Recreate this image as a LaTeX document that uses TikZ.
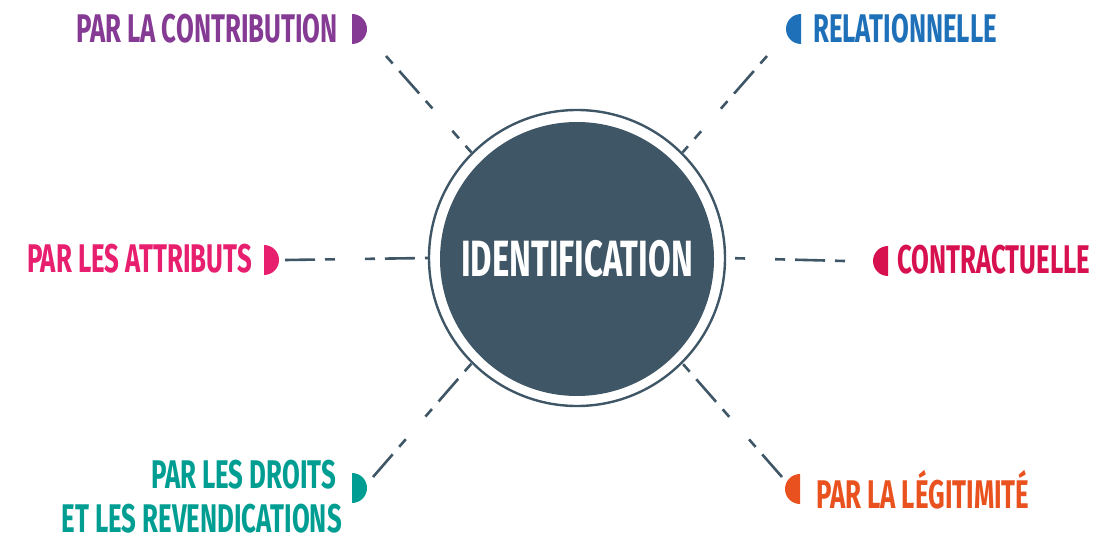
\documentclass[tikz,border=0pt]{standalone}
\usepackage{fontspec}
\newfontfamily\condfont{Fira Sans}[FakeStretch=0.645]
\usetikzlibrary{calc}
\definecolor{slate}{RGB}{63,86,102}
\definecolor{cpurple}{RGB}{133,58,148}
\definecolor{cblue}{RGB}{30,113,184}
\definecolor{cpink}{RGB}{232,30,110}
\definecolor{ccrimson}{RGB}{215,16,80}
\definecolor{cteal}{RGB}{0,158,146}
\definecolor{corange}{RGB}{233,82,30}
\begin{document}
\begin{tikzpicture}[x=1pt,y=-1pt,
  lbl/.style={inner sep=0pt,font=\condfont\bfseries\fontsize{40}{48}\selectfont},
  conn/.style={draw=slate,line width=2.6pt,dash pattern=on 10pt off 30pt on 10pt off 10pt on 30pt off 10pt},
]
\useasboundingbox (0,0) rectangle (1097,540);

% central disc and its ring
\node[circle,draw=slate,line width=2.4pt,minimum size=296pt,inner sep=0pt] (ring) at (577,258) {};
\node[circle,fill=slate,minimum size=274pt,inner sep=0pt,text=white,
      font=\condfont\bfseries\fontsize{51}{60}\selectfont] (core) at (577,259) {IDENTIFICATION};

% outer end points of the spokes
\coordinate (eul) at (386,56);
\coordinate (eur) at (767,56);
\coordinate (el)  at (285,260);
\coordinate (er)  at (845,261);
\coordinate (ell) at (373,477);
\coordinate (elr) at (782,477);

% spokes, drawn from the outer end towards the ring
\draw[conn,dash phase=40pt] (eul) -- (ring.135);
\draw[conn,dash phase=40pt] (eur) -- (ring.45);
\draw[conn,dash phase=60pt] (el)  -- (ring.180);
\draw[conn,dash phase=40pt] (er)  -- (ring.0);
\draw[conn,dash phase=60pt] (ell) -- (ring.225);
\draw[conn,dash phase=60pt] (elr) -- (ring.315);

% half-disc markers (flat side facing the label)
\coordinate (mul) at (352,29);
\coordinate (mur) at (801,29);
\coordinate (ml)  at (264,260);
\coordinate (mr)  at (888,261);
\coordinate (mll) at (352,488);
\coordinate (mlr) at (800,489);
\fill[cpurple]  (mul) ++(0,-15) arc[start angle=-90,end angle=90,radius=15] -- cycle;
\fill[cblue]    (mur) ++(0,-15) arc[start angle=-90,end angle=-270,radius=15] -- cycle;
\fill[cpink]    (ml)  ++(0,-15) arc[start angle=-90,end angle=90,radius=15] -- cycle;
\fill[ccrimson] (mr)  ++(0,-15) arc[start angle=-90,end angle=-270,radius=15] -- cycle;
\fill[cteal]    (mll) ++(0,-15) arc[start angle=-90,end angle=90,radius=15] -- cycle;
\fill[corange]  (mlr) ++(0,-15) arc[start angle=-90,end angle=-270,radius=15] -- cycle;

% labels
\node[lbl,text=cpurple,anchor=base east]  (tul) at (338,43)  {PAR LA CONTRIBUTION};
\node[lbl,text=cblue,anchor=base west]    (tur) at (813,43)  {RELATIONNELLE};
\node[lbl,text=cpink,anchor=base east]    (tl)  at (252,272) {PAR LES ATTRIBUTS};
\node[lbl,text=ccrimson,anchor=base west] (tr)  at (897,273) {CONTRACTUELLE};
\node[lbl,text=cteal,anchor=base east]    (tll) at (336,488) {PAR LES DROITS};
\node[lbl,text=cteal,anchor=base east]    (tll2) at (342,532) {ET LES REVENDICATIONS};
\node[lbl,text=corange,anchor=base west]  (tlr) at (816,508) {PAR LA LÉGITIMITÉ};
\end{tikzpicture}
\end{document}
